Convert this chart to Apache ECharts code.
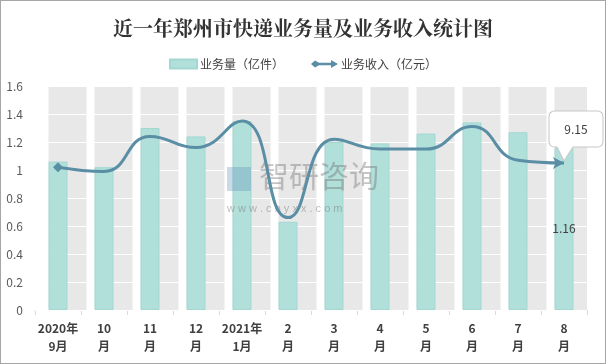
<!DOCTYPE html>
<html><head><meta charset="utf-8">
<script src="https://cdn.jsdelivr.net/npm/echarts@6/dist/echarts.min.js"></script>
<style>html,body{margin:0;padding:0;background:#fff}#c{position:absolute;left:0;top:0;width:606px;height:364px;box-sizing:border-box;border:1px solid #a6a6a6}</style>
</head><body><div id="c"></div>
<script>
var categories = ['2020年\n9月','10\n月','11\n月','12\n月','2021年\n1月','2\n月','3\n月','4\n月','5\n月','6\n月','7\n月','8\n月'];
var volume = [1.06, 1.02, 1.30, 1.24, 1.35, 0.63, 1.20, 1.19, 1.26, 1.34, 1.27, 1.16];
var revenue = [1.02, 0.99, 1.24, 1.16, 1.35, 0.66, 1.22, 1.15, 1.15, 1.31, 1.07, 1.05];
var revenueCallout = '9.15';
var yTicks = {min: 0, max: 1.6, interval: 0.2};

var chart = echarts.init(document.getElementById('c'));
var bgData = categories.map(function(){ return yTicks.max; });
var volData = volume.map(function(v, i){
  return i === volume.length - 1 ? {value: v, label: {show: true, position: 'inside', color: '#404040', fontSize: 12}} : v;
});
var revData = revenue.map(function(v, i){
  if (i === 0) return {value: v, symbol: 'diamond', symbolSize: 10};
  if (i === revenue.length - 1) return {value: v, symbol: 'arrow', symbolSize: [9, 11], symbolRotate: -90};
  return {value: v, symbol: 'none'};
});
var font = '"Microsoft YaHei","Noto Sans CJK SC",sans-serif';
chart.setOption({
  animation: false,
  textStyle: {fontFamily: font},
  title: {text: '近一年郑州市快递业务量及业务收入统计图', left: 'center', top: 12,
    textStyle: {fontSize: 20, fontWeight: 'bold', color: '#333', fontFamily: '"Noto Serif CJK SC","Noto Sans CJK SC",serif'}},
  legend: {top: 52, left: 'center', itemGap: 27, itemWidth: 27, itemHeight: 9,
    textStyle: {fontSize: 12, color: '#404040', padding: [0, 0, 0, -2]},
    data: [{name: '业务量（亿件）', icon: 'rect'},
           {name: '业务收入（亿元）', icon: 'path://M0,5 L4,1.5 L8,3.8 L20,3.8 L20,1 L27,5 L20,9 L20,6.2 L8,6.2 L4,8.5 Z'}]},
  grid: {left: 34, right: 18, top: 85, bottom: 53},
  xAxis: {type: 'category', data: categories,
    axisLine: {lineStyle: {color: '#d9d9d9'}},
    axisTick: {show: true, length: 5, lineStyle: {color: '#d9d9d9'}},
    axisLabel: {color: '#404040', fontSize: 12, fontWeight: 'bold', lineHeight: 18, margin: 9, interval: 0}},
  yAxis: {type: 'value', min: yTicks.min, max: yTicks.max, interval: yTicks.interval, z: 1,
    axisLine: {show: false}, axisTick: {show: false},
    axisLabel: {color: '#595959', fontSize: 12, margin: 12},
    splitLine: {lineStyle: {color: '#ffffff', width: 1}}},
  graphic: [{type: 'group', left: 'center', top: 160, silent: true, z: 3, children: [
    {type: 'rect', shape: {x: 0, y: 6, width: 24, height: 24}, style: {fill: 'rgba(100,150,190,0.35)'}, z: 3},
    {type: 'text', style: {text: '智研咨询', font: '30px "Noto Sans CJK SC"', fill: 'rgba(110,110,110,0.4)'}, x: 32, y: 0, z: 3},
    {type: 'text', style: {text: 'w w w . c h y x x . c o m', font: '11px sans-serif', fill: 'rgba(110,110,110,0.45)'}, x: 0, y: 42, z: 3}
  ]}],
  series: [
    {name: 'bg', type: 'bar', data: bgData, barWidth: 38, z: 0, silent: true,
      itemStyle: {color: '#e8e8e8'}},
    {name: '业务量（亿件）', type: 'bar', data: volData, barWidth: 19, barGap: '-100%', z: 2,
      itemStyle: {color: '#b1dfda', borderColor: '#a3d8d2', borderWidth: 1}},
    {name: '业务收入（亿元）', type: 'line', data: revData, smooth: 0.5, z: 4,
      lineStyle: {color: '#5a8ea5', width: 3}, itemStyle: {color: '#5a8ea5'},
      markPoint: {data: [{coord: [revenue.length - 1, revenue[revenue.length - 1]], value: revenueCallout}],
        symbol: 'path://M6,0 L48,0 Q54,0 54,6 L54,30 Q54,36 48,36 L24,36 L15,50 L8,36 L6,36 Q0,36 0,30 L0,6 Q0,0 6,0 Z',
        symbolSize: [54, 50], symbolOffset: [12, -27],
        itemStyle: {color: '#ffffff', borderColor: '#c8c8c8', borderWidth: 1},
        label: {show: true, position: 'inside', offset: [0, -7], color: '#404040', fontSize: 12, formatter: '{c}'}}}
  ]
});
</script></body></html>
